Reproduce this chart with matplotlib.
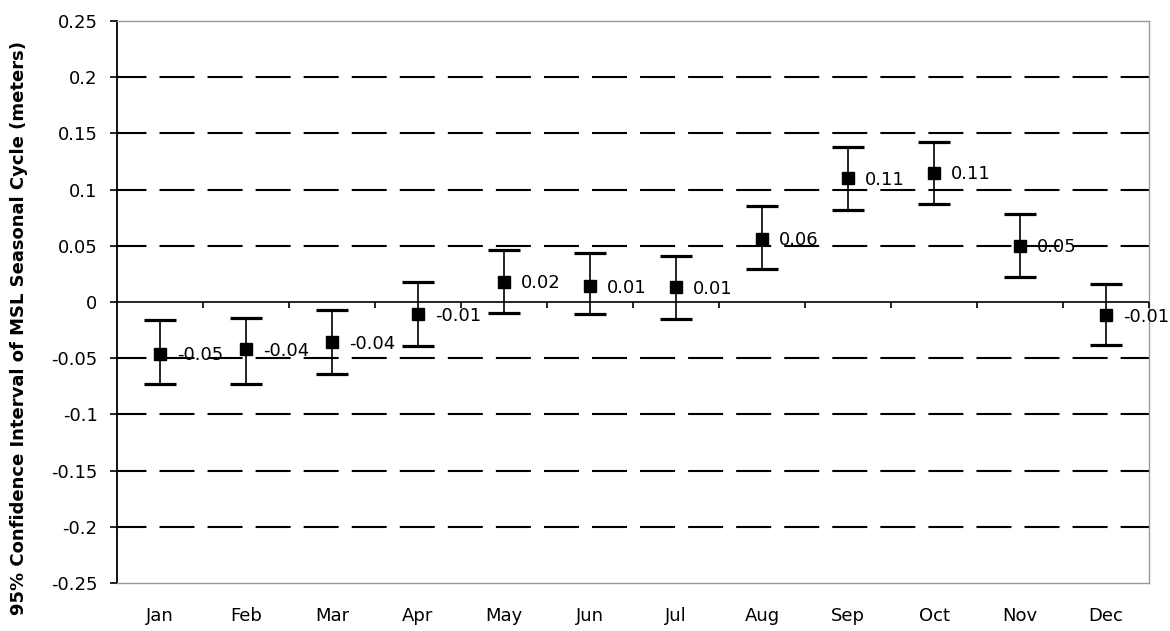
import matplotlib
matplotlib.use("Agg")
import matplotlib.pyplot as plt
import numpy as np
from matplotlib.ticker import FuncFormatter, FixedLocator

months = ["Jan", "Feb", "Mar", "Apr", "May", "Jun", "Jul", "Aug", "Sep", "Oct", "Nov", "Dec"]
means = [-0.046, -0.042, -0.036, -0.011, 0.018, 0.014, 0.013, 0.056, 0.110, 0.115, 0.050, -0.012]
ci_upper = [-0.016, -0.014, -0.007, 0.018, 0.046, 0.044, 0.041, 0.085, 0.138, 0.142, 0.078, 0.016]
ci_lower = [-0.073, -0.073, -0.064, -0.039, -0.010, -0.011, -0.015, 0.029, 0.082, 0.087, 0.022, -0.038]
point_labels = ["-0.05", "-0.04", "-0.04", "-0.01", "0.02", "0.01", "0.01", "0.06", "0.11", "0.11", "0.05", "-0.01"]
y_ticks = [-0.25, -0.2, -0.15, -0.1, -0.05, 0, 0.05, 0.1, 0.15, 0.2, 0.25]
y_title = "95% Confidence Interval of MSL Seasonal Cycle (meters)"

plt.rcParams['font.family'] = ['DejaVu Sans']
plt.rcParams['lines.scale_dashes'] = False

fig = plt.figure(figsize=(11.7, 6.31), dpi=100)
ax = fig.add_axes([117/1170, 1 - 583/631, (1149-117)/1170, (583-21)/631])

x = np.arange(len(months))
m = np.array(means)
yerr = np.vstack([m - np.array(ci_lower), np.array(ci_upper) - m])

ax.set_xlim(-0.5, len(months) - 0.5)
ax.set_ylim(-0.25, 0.25)

# dashed gridlines
for t in y_ticks:
    if t in (-0.25, 0, 0.25):
        continue
    ax.axhline(t, color="black", lw=1.5, linestyle=(4, (25.2, 9.4)), zorder=1)
ax.axhline(0, color="black", lw=1.2, zorder=2)

ax.errorbar(x, m, yerr=yerr, fmt="s", color="black", ms=8.5, ecolor="black",
            elinewidth=1.2, capsize=11.5, capthick=2.3, zorder=3)

for xi, yi, lab in zip(x, m, point_labels):
    ax.annotate(lab, (xi, yi), xytext=(12, -1), textcoords="offset points",
                ha="left", va="center", fontsize=13, color="black", zorder=4)

# axes styling
ax.set_yticks(y_ticks)
ax.yaxis.set_major_formatter(FuncFormatter(lambda v, p: f"{round(v, 2):g}" if abs(v) > 1e-9 else "0"))
ax.tick_params(axis="y", direction="out", length=5, width=1.2, pad=9, labelsize=13, colors="black")
ax.set_xticks(x)
ax.set_xticklabels(months)
ax.tick_params(axis="x", length=0, pad=17, labelsize=13)

ax.spines["left"].set_color("black")
ax.spines["left"].set_linewidth(1.3)
for s in ("top", "right", "bottom"):
    ax.spines[s].set_color("#9a9a9a")
    ax.spines[s].set_linewidth(1.0)

# category tick marks on the zero line
ax2 = ax.twiny()
ax2.set_xlim(ax.get_xlim())
ax2.spines["bottom"].set_position(("data", 0))
for s in ("top", "right", "left", "bottom"):
    ax2.spines[s].set_visible(False)
ax2.xaxis.set_ticks_position("bottom")
ax2.xaxis.set_major_locator(FixedLocator(x + 0.5))
ax2.tick_params(axis="x", direction="out", length=4, width=1.2, labelbottom=False, labeltop=False)

fig.text(19/1170, 1 - 328/631, y_title, rotation=90, ha="center", va="center",
         fontsize=13, fontweight="bold")

fig.savefig("out.png", dpi=100, facecolor="white")
